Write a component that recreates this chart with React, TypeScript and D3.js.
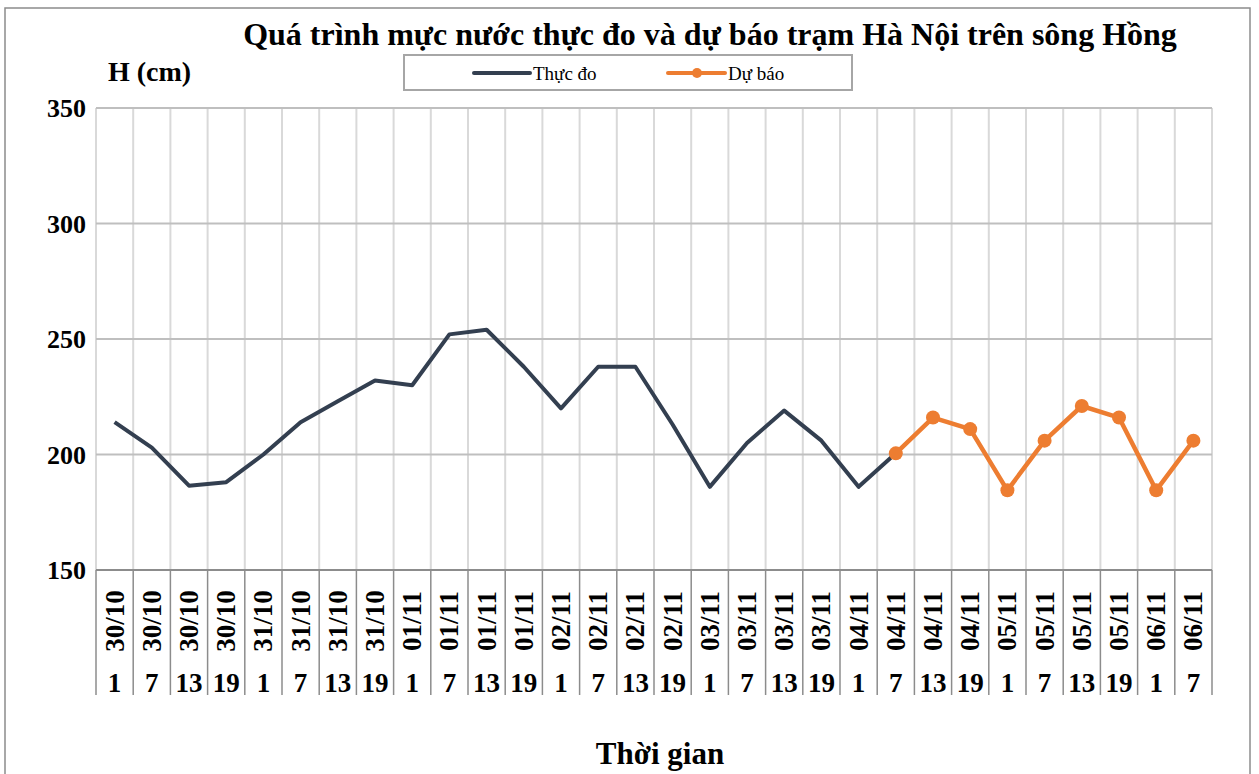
import React from "react";
import * as d3 from "d3";

const dates = [
  "30/10", "30/10", "30/10", "30/10",
  "31/10", "31/10", "31/10", "31/10",
  "01/11", "01/11", "01/11", "01/11",
  "02/11", "02/11", "02/11", "02/11",
  "03/11", "03/11", "03/11", "03/11",
  "04/11", "04/11", "04/11", "04/11",
  "05/11", "05/11", "05/11", "05/11",
  "06/11", "06/11",
];
const hours = [1, 7, 13, 19, 1, 7, 13, 19, 1, 7, 13, 19, 1, 7, 13, 19, 1, 7, 13, 19, 1, 7, 13, 19, 1, 7, 13, 19, 1, 7];

// measured levels (cm), index 0..21
const actual = [214, 203, 186.5, 188, 200, 214, 223, 232, 230, 252, 254, 238, 220, 238, 238, 213, 186, 205, 219, 206, 186, 200.5];
// forecast levels (cm), starting at index 21
const forecastStart = 21;
const forecast = [200.5, 216, 211, 184.5, 206, 221, 216, 184.5, 206];

const yTicks = [150, 200, 250, 300, 350];

const W = 1259;
const H = 774;
const left = 96;
const right = 1212;
const top = 108;
const bottom = 570;

const FONT = "'Liberation Serif', 'Times New Roman', serif";
const DARK = "#333f50";
const ORANGE = "#ed7d31";

const App = () => {
  const idx = d3.range(dates.length);
  const x = d3.scaleBand<number>().domain(idx).range([left, right]);
  const y = d3.scaleLinear().domain([150, 350]).range([bottom, top]);
  const cx = (i: number) => (x(i) as number) + x.bandwidth() / 2;

  const line = d3
    .line<[number, number]>()
    .x((d) => cx(d[0]))
    .y((d) => y(d[1]));

  const actualPts: [number, number][] = actual.map((v, i) => [i, v]);
  const forecastPts: [number, number][] = forecast.map((v, i) => [i + forecastStart, v]);
  const bounds = [...idx.map((i) => x(i) as number), right];

  return (
    <svg width={W} height={H} style={{ position: "absolute", left: 0, top: 0 }}>
      <rect x={0} y={0} width={W} height={H} fill="#fff" />
      <rect x={5} y={8} width={1245} height={H + 10} fill="none" stroke="#8c8c8c" strokeWidth={1.5} />

      <text x={710} y={45} textAnchor="middle" fontFamily={FONT} fontWeight="bold" fontSize={32}>
        Quá trình  mực nước thực đo và dự báo trạm Hà Nội trên sông Hồng
      </text>
      <text x={108} y={81} fontFamily={FONT} fontWeight="bold" fontSize={28}>
        H (cm)
      </text>

      {/* legend */}
      <rect x={404} y={55} width={448} height={35} fill="#fff" stroke="#a6a6a6" strokeWidth={2} />
      <line x1={474} x2={530} y1={73} y2={73} stroke={DARK} strokeWidth={4} strokeLinecap="round" />
      <text x={533} y={80} fontFamily={FONT} fontSize={19}>Thực đo</text>
      <line x1={668} x2={725} y1={73} y2={73} stroke={ORANGE} strokeWidth={4} strokeLinecap="round" />
      <circle cx={697} cy={73} r={5} fill={ORANGE} />
      <text x={728} y={80} fontFamily={FONT} fontSize={19}>Dự báo</text>

      {/* grid */}
      {bounds.map((b, i) => (
        <line key={"v" + i} x1={b} x2={b} y1={top} y2={bottom} stroke="#d9d9d9" strokeWidth={2} />
      ))}
      {yTicks.filter((t) => t > 150).map((t) => (
        <line key={"h" + t} x1={left} x2={right} y1={y(t)} y2={y(t)} stroke="#bfbfbf" strokeWidth={2} />
      ))}
      {yTicks.map((t) => (
        <text key={"t" + t} x={86} y={y(t) + 9} textAnchor="end" fontFamily={FONT} fontWeight="bold" fontSize={26}>
          {t}
        </text>
      ))}

      {/* category table */}
      {bounds.map((b, i) => (
        <line key={"s" + i} x1={b} x2={b} y1={bottom} y2={695} stroke="#8c8c8c" strokeWidth={1.5} />
      ))}
      <line x1={left} x2={right} y1={bottom} y2={bottom} stroke="#8c8c8c" strokeWidth={2} />
      {idx.map((i) => (
        <text
          key={"d" + i}
          transform={`translate(${cx(i) + 9},${621}) rotate(-90)`}
          textAnchor="middle"
          fontFamily={FONT}
          fontWeight="bold"
          fontSize={27}
        >
          {dates[i]}
        </text>
      ))}
      {idx.map((i) => (
        <text key={"hr" + i} x={cx(i)} y={692} textAnchor="middle" fontFamily={FONT} fontWeight="bold" fontSize={27}>
          {hours[i]}
        </text>
      ))}
      <text x={660} y={764} textAnchor="middle" fontFamily={FONT} fontWeight="bold" fontSize={31}>
        Thời gian
      </text>

      {/* series */}
      <path d={line(actualPts) ?? ""} fill="none" stroke={DARK} strokeWidth={4} strokeLinejoin="round" />
      <path d={line(forecastPts) ?? ""} fill="none" stroke={ORANGE} strokeWidth={4.5} strokeLinejoin="round" />
      {forecastPts.map((p) => (
        <circle key={"m" + p[0]} cx={cx(p[0])} cy={y(p[1])} r={7} fill={ORANGE} />
      ))}
    </svg>
  );
};

export default App;
